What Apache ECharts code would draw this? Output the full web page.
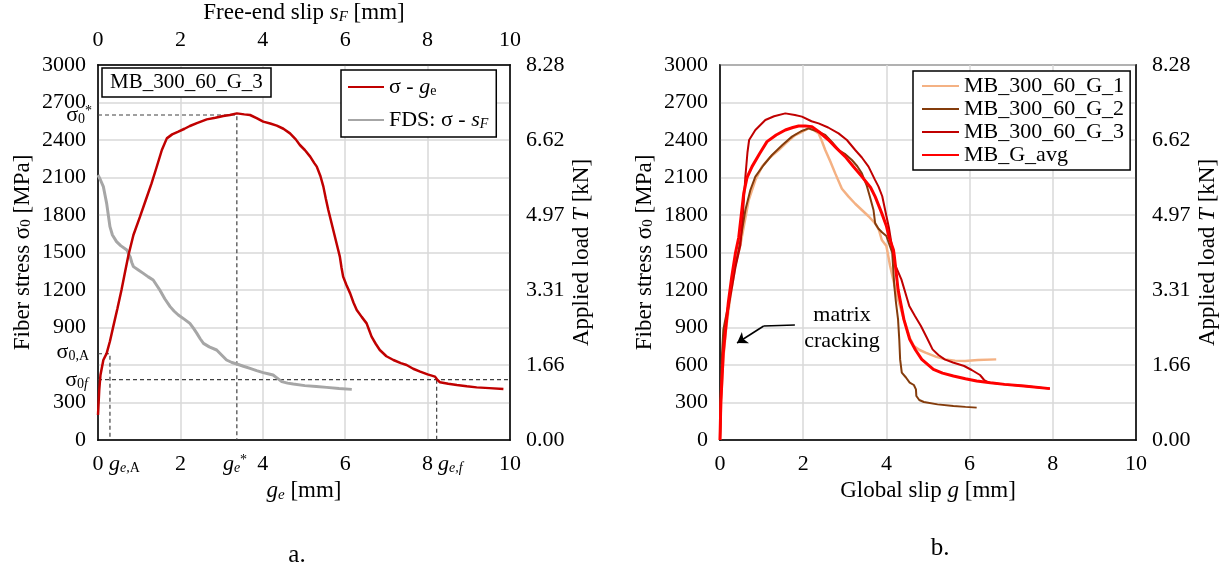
<!DOCTYPE html>
<html><head><meta charset="utf-8">
<script src="https://cdn.jsdelivr.net/npm/echarts@6/dist/echarts.min.js"></script>
<style>html,body{margin:0;padding:0;background:#fff}#c{width:1230px;height:574px}</style>
</head><body><div id="c"></div>
<script>
// ---------- DATA ----------
// (a) sigma vs g_e  [mm, MPa]
const redGe = [[0,200],[0.03,400],[0.06,520],[0.13,640],[0.21,693],[0.29,790],[0.37,907],[0.47,1050],[0.57,1200],[0.66,1350],[0.74,1480],[0.86,1640],[1.02,1787],[1.16,1920],[1.30,2053],[1.42,2180],[1.55,2320],[1.67,2413],[1.80,2445],[1.95,2467],[2.10,2490],[2.23,2512],[2.40,2535],[2.64,2565],[2.85,2578],[3.04,2592],[3.20,2600],[3.37,2613],[3.55,2605],[3.69,2600],[3.85,2575],[4.01,2547],[4.18,2532],[4.34,2515],[4.50,2490],[4.66,2453],[4.80,2405],[4.90,2360],[5.02,2320],[5.15,2267],[5.25,2215],[5.31,2187],[5.40,2110],[5.47,2027],[5.53,1930],[5.59,1840],[5.65,1760],[5.71,1680],[5.77,1600],[5.83,1520],[5.87,1467],[5.91,1380],[5.95,1307],[6.03,1240],[6.12,1173],[6.20,1100],[6.28,1040],[6.40,985],[6.52,933],[6.58,880],[6.64,827],[6.74,770],[6.84,720],[7.00,670],[7.17,640],[7.35,615],[7.49,600],[7.65,570],[7.82,547],[8.00,525],[8.18,507],[8.24,480],[8.30,462],[8.50,450],[8.71,440],[8.95,430],[9.19,421],[9.50,415],[9.84,408]];
// (a) FDS: sigma vs s_F
const graySF = [[0,2120],[0.06,2080],[0.13,2027],[0.17,1960],[0.21,1893],[0.25,1800],[0.29,1707],[0.35,1640],[0.45,1587],[0.55,1555],[0.70,1520],[0.74,1490],[0.78,1467],[0.82,1420],[0.86,1387],[0.98,1360],[1.10,1333],[1.22,1305],[1.34,1280],[1.42,1240],[1.50,1200],[1.62,1130],[1.75,1067],[1.85,1030],[1.95,1000],[2.10,965],[2.23,933],[2.32,893],[2.40,853],[2.48,810],[2.56,773],[2.70,745],[2.88,720],[3.00,680],[3.12,640],[3.25,620],[3.37,608],[3.53,590],[3.69,573],[3.85,555],[4.01,539],[4.15,528],[4.25,520],[4.35,495],[4.46,467],[4.60,455],[4.74,448],[5.02,435],[5.30,428],[5.55,421],[5.85,412],[6.16,405]];
// (a) characteristic points
const geA = 0.29, sigmaA = 690;
const geStar = 3.37, sigmaStar = 2600;
const geF = 8.22, sigmaF = 483;
// (b) sigma vs global slip g
const g1 = [[0,0],[0.03,350],[0.08,650],[0.15,900],[0.25,1150],[0.37,1400],[0.49,1560],[0.69,1920],[0.85,2080],[1.01,2187],[1.2,2260],[1.41,2320],[1.6,2380],[1.81,2440],[2.0,2470],[2.13,2493],[2.25,2480],[2.37,2453],[2.45,2390],[2.53,2320],[2.65,2230],[2.77,2133],[2.93,2010],[3.09,1947],[3.25,1890],[3.41,1840],[3.57,1790],[3.73,1733],[3.82,1680],[3.89,1600],[4.0,1552],[4.09,1392],[4.18,1260],[4.28,1125],[4.38,1010],[4.47,912],[4.56,820],[4.66,752],[4.80,720],[4.94,699],[5.2,665],[5.42,645],[5.65,635],[5.89,632],[6.2,640],[6.64,645]];
const g2 = [[0,0],[0.02,400],[0.05,700],[0.08,880],[0.12,950],[0.2,1080],[0.3,1300],[0.45,1520],[0.61,1840],[0.73,2000],[0.85,2107],[1.05,2200],[1.25,2280],[1.5,2360],[1.73,2427],[1.95,2470],[2.13,2493],[2.33,2470],[2.53,2440],[2.7,2380],[2.85,2320],[3.0,2290],[3.17,2240],[3.3,2190],[3.41,2133],[3.53,2032],[3.6,1950],[3.69,1840],[3.73,1733],[3.81,1690],[3.9,1660],[4.0,1632],[4.14,1499],[4.19,1232],[4.23,1100],[4.28,965],[4.31,800],[4.33,645],[4.37,539],[4.47,500],[4.56,459],[4.66,440],[4.71,405],[4.72,352],[4.79,320],[4.9,304],[5.23,285],[5.61,272],[5.9,265],[6.17,259]];
const g3 = [[0,0],[0.03,400],[0.08,750],[0.15,950],[0.25,1150],[0.37,1380],[0.49,1560],[0.55,1800],[0.61,2107],[0.66,2300],[0.70,2400],[0.85,2480],[1.09,2560],[1.3,2590],[1.57,2613],[1.8,2600],[1.97,2587],[2.2,2550],[2.37,2533],[2.6,2500],[2.85,2453],[3.05,2400],[3.25,2320],[3.41,2260],[3.57,2187],[3.72,2085],[3.81,2027],[3.9,1950],[4.0,1792],[4.06,1700],[4.17,1472],[4.21,1400],[4.36,1285],[4.55,1072],[4.69,990],[4.83,912],[4.97,820],[5.11,725],[5.25,680],[5.40,645],[5.6,620],[5.87,592],[6.05,560],[6.25,520],[6.35,480],[6.46,459],[6.84,445],[7.31,432],[7.93,411]];
const gAvg = [[0,0],[0.02,300],[0.05,500],[0.08,700],[0.14,900],[0.2,1100],[0.28,1300],[0.37,1493],[0.45,1620],[0.57,1973],[0.65,2100],[0.77,2187],[0.95,2290],[1.13,2387],[1.35,2440],[1.57,2480],[1.75,2500],[1.89,2512],[2.05,2512],[2.21,2507],[2.4,2460],[2.61,2400],[2.8,2335],[3.01,2267],[3.2,2190],[3.41,2107],[3.62,2020],[3.73,1947],[3.89,1813],[4.0,1712],[4.06,1627],[4.17,1520],[4.19,1472],[4.28,1205],[4.42,965],[4.56,805],[4.70,720],[4.85,645],[5.13,565],[5.35,535],[5.61,512],[5.9,490],[6.17,472],[6.5,458],[6.84,445],[7.31,432],[7.93,411]];
const namesB = ['MB_300_60_G_1','MB_300_60_G_2','MB_300_60_G_3','MB_G_avg'];
// annotation path (matrix cracking) and text anchor, data coords
const arrowTail = [[1.80,920],[1.05,912]];
const arrowHead = [[1.05,912],[0.41,776]];
const crackTextAt = [2.93,900];
// axes
const slipMax = 10, slipStep = 2;
const stressMax = 3000, stressStep = 300, loadStep = 600;
const loadMaxKN = 8.28;

// ---------- STYLE ----------
const F = 'Liberation Serif';
const FS = 22;
const rich = {
  i:{fontFamily:F,fontSize:FS,fontStyle:'italic',fill:'#000',color:'#000'},
  s:{fontFamily:F,fontSize:FS,fill:'#000',color:'#000'},
  sub:{fontFamily:F,fontSize:14,fill:'#000',color:'#000',verticalAlign:'bottom',lineHeight:13},
  subi:{fontFamily:F,fontSize:14,fontStyle:'italic',fill:'#000',color:'#000',verticalAlign:'bottom',lineHeight:13},
  sup:{fontFamily:F,fontSize:14,fill:'#000',color:'#000',verticalAlign:'top',lineHeight:13}
};
const txt = {fontFamily:F,fontSize:FS,color:'#000',rich:rich};
const nameTxt = {fontFamily:F,fontSize:23,color:'#000',rich:{
  i:{fontFamily:F,fontSize:23,fontStyle:'italic',color:'#000'},
  s:{fontFamily:F,fontSize:23,color:'#000'},
  sub:{fontFamily:F,fontSize:15,color:'#000',verticalAlign:'bottom',lineHeight:14},
  subi:{fontFamily:F,fontSize:15,fontStyle:'italic',color:'#000',verticalAlign:'bottom',lineHeight:14}
}};
const gridLine = {show:true,lineStyle:{color:'#D9D9D9',width:1.5}};
const axLine = {show:true,onZero:false,lineStyle:{color:'#000',width:1.5}};

function xAx(grid,pos,name,gap,split){
  return {gridIndex:grid,type:'value',min:0,max:slipMax,interval:slipStep,position:pos,
    axisLine:axLine,axisTick:{show:false},splitLine:split?gridLine:{show:false},
    axisLabel:Object.assign({margin:pos==='top'?14:13},txt),
    name:name,nameLocation:'middle',nameGap:gap,nameTextStyle:nameTxt};
}
function yAx(grid,pos,isLoad,hide600){
  return {gridIndex:grid,type:'value',min:0,max:stressMax,interval:isLoad?loadStep:stressStep,position:pos,
    axisLine:axLine,axisTick:{show:false},splitLine:isLoad?{show:false}:gridLine,
    axisLabel:Object.assign({margin:isLoad?16:12,
      formatter:function(v){ if(isLoad) return (v*loadMaxKN/stressMax).toFixed(2); if(hide600 && v===600) return ''; return String(v);} },txt),
    name:isLoad?'Applied load {i|T} [kN]':'Fiber stress {s|σ}{sub|0} [MPa]',
    nameLocation:'middle',nameRotate:90,nameGap:isLoad?60:64,nameTextStyle:nameTxt};
}
function dashed(data){
  return {type:'line',xAxisIndex:0,yAxisIndex:0,data:data,symbol:'none',silent:true,z:1,
    lineStyle:{color:'#404040',width:1.2,type:[4,3]}};
}

const option = {
  animation:false,
  backgroundColor:'#fff',
  grid:[
    {left:98,top:65,width:412,height:375,show:true,borderColor:'#000',borderWidth:1.5,backgroundColor:'transparent',containLabel:false,outerBoundsMode:'none'},
    {left:720,top:65,width:416,height:375,show:true,borderColor:'#000',borderWidth:1.5,backgroundColor:'transparent',containLabel:false,outerBoundsMode:'none'}
  ],
  xAxis:[
    xAx(0,'bottom','{i|g}{subi|e} [mm]',35,true),
    xAx(0,'top','Free-end slip {i|s}{subi|F} [mm]',38,false),
    xAx(1,'bottom','Global slip {i|g} [mm]',36,true)
  ],
  yAxis:[ yAx(0,'left',false,true), yAx(0,'right',true,false), yAx(1,'left',false,false), yAx(1,'right',true,false) ],
  title:[
    {text:'MB_300_60_G_3',left:102,top:68,padding:[4,8,4,8],borderColor:'#000',borderWidth:1.5,backgroundColor:'#fff',
     textStyle:{fontFamily:F,fontSize:21,fontWeight:'normal',color:'#000'}}
  ],
  legend:[
    {data:['σ - ge','FDS: σ - sF'],orient:'vertical',left:341,top:70,padding:[6,8,6,6],itemGap:11,itemWidth:36,itemHeight:14,
     borderColor:'#000',borderWidth:1.5,backgroundColor:'#fff',selectedMode:false,
     itemStyle:{opacity:0},
     textStyle:Object.assign({lineHeight:22},txt),
     formatter:function(n){ return n==='σ - ge' ? 'σ - {i|g}{sub|e}' : 'FDS: σ - {i|s}{subi|F}'; }},
    {data:namesB,orient:'vertical',left:913,top:71,padding:[4,6,4,8],itemGap:1,itemWidth:37,itemHeight:14,
     borderColor:'#000',borderWidth:1.5,backgroundColor:'#fff',selectedMode:false,
     itemStyle:{opacity:0},
     textStyle:Object.assign({lineHeight:22},txt)}
  ],
  series:[
    {name:'FDS: σ - sF',type:'line',xAxisIndex:1,yAxisIndex:0,data:graySF,symbol:'none',z:3,lineStyle:{color:'#A6A6A6',width:3},itemStyle:{color:'#A6A6A6'}},
    {name:'σ - ge',type:'line',xAxisIndex:0,yAxisIndex:0,data:redGe,symbol:'none',z:4,lineStyle:{color:'#C00000',width:2.5},itemStyle:{color:'#C00000'}},
    dashed([[0,sigmaStar],[geStar,sigmaStar],[geStar,0]]),
    dashed([[0,sigmaA],[geA,sigmaA],[geA,0]]),
    dashed([[0,sigmaF],[slipMax,sigmaF]]),
    dashed([[geF,sigmaF],[geF,0]]),
    {name:namesB[0],type:'line',xAxisIndex:2,yAxisIndex:2,data:g1,symbol:'none',z:3,lineStyle:{color:'#F4B183',width:2.5},itemStyle:{color:'#F4B183'}},
    {name:namesB[1],type:'line',xAxisIndex:2,yAxisIndex:2,data:g2,symbol:'none',z:3,lineStyle:{color:'#843C0C',width:2},itemStyle:{color:'#843C0C'}},
    {name:namesB[2],type:'line',xAxisIndex:2,yAxisIndex:2,data:g3,symbol:'none',z:3,lineStyle:{color:'#C00000',width:2},itemStyle:{color:'#C00000'}},
    {name:namesB[3],type:'line',xAxisIndex:2,yAxisIndex:2,data:gAvg,symbol:'none',z:4,lineStyle:{color:'#FF0000',width:3},itemStyle:{color:'#FF0000'}},
    {type:'lines',coordinateSystem:'cartesian2d',xAxisIndex:2,yAxisIndex:2,silent:true,z:5,
     symbol:['none','none'],
     lineStyle:{color:'#000',width:1.5,opacity:1},
     data:[{coords:arrowTail}]},
    {type:'lines',coordinateSystem:'cartesian2d',xAxisIndex:2,yAxisIndex:2,silent:true,z:5,
     symbol:['none','arrow'],symbolSize:10,
     lineStyle:{color:'#000',width:1.5,opacity:1},itemStyle:{color:'#000'},
     data:[{coords:arrowHead}]}
  ]
};
const chart = echarts.init(document.getElementById('c'),null,{renderer:'canvas'});
chart.setOption(option);

// text annotations positioned through the axes' scales
function px(xi,yi,pt){ const p = chart.convertToPixel({xAxisIndex:xi,yAxisIndex:yi},pt); return [Math.round(p[0]),Math.round(p[1])]; }
function tx(p,text,align,vAlign,dx,dy){
  return {type:'text',x:p[0]+(dx||0),y:p[1]+(dy||0),z:100,
    style:{text:text,rich:rich,fontFamily:F,fontSize:FS,fill:'#000',align:align,verticalAlign:vAlign}};
}
const pS = px(0,0,[0,sigmaStar]), pA = px(0,0,[0,sigmaA]), pF = px(0,0,[0,sigmaF]);
const qA = px(0,0,[geA,0]), qS = px(0,0,[geStar,0]), qF = px(0,0,[geF,0]);
const pC = px(2,2,crackTextAt);
const pa = px(0,0,[5,0]), pb = px(2,2,[5,0]);
const gfx = [
  tx(pS,'{s|σ}{sub|0}{sup|*}','right','middle',-6,0),
  tx(pA,'{s|σ}{sub|0,A}','right','middle',-9,-2),
  tx(pF,'{s|σ}{sub|0}{subi|f}','right','middle',-10,0),
  tx(qA,'{i|g}{subi|e,}{sub|A}','left','top',-1,13),
  tx(qS,'{i|g}{subi|e}{sup|*}','center','top',-2,13),
  tx(qF,'{i|g}{subi|e,f}','left','top',1,13),
  {type:'text',x:pC[0],y:pC[1],z:100,style:{text:'matrix\ncracking',fontFamily:F,fontSize:FS,fill:'#000',align:'center',verticalAlign:'middle',lineHeight:26}},
  {type:'text',x:pa[0]-7,y:555,z:100,style:{text:'a.',fontFamily:F,fontSize:25,fill:'#000',align:'center',verticalAlign:'middle'}},
  {type:'text',x:pb[0]+12,y:548,z:100,style:{text:'b.',fontFamily:F,fontSize:25,fill:'#000',align:'center',verticalAlign:'middle'}}
];
chart.setOption({graphic:gfx});
</script></body></html>
